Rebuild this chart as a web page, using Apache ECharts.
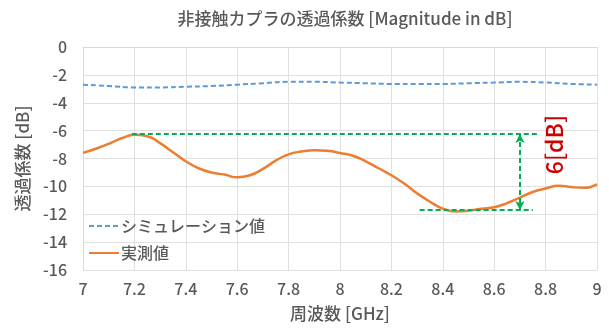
<!DOCTYPE html>
<html>
<head>
<meta charset="utf-8">
<script src="https://cdn.jsdelivr.net/npm/echarts@6/dist/echarts.min.js"></script>
<style>
html, body { margin: 0; padding: 0; background: #fff; }
#chart { width: 609px; height: 329px; }
</style>
</head>
<body>
<div id="chart"></div>
<script>
// シミュレーション値 (GHz, dB)
var simFreq = [7.0, 7.1, 7.2, 7.3, 7.4, 7.5, 7.6, 7.7, 7.8, 7.9, 8.0, 8.1, 8.2, 8.3, 8.4, 8.5, 8.6, 8.7, 8.8, 8.9, 9.0];
var simVal = [-2.7, -2.8, -2.9, -2.9, -2.85, -2.8, -2.7, -2.6, -2.5, -2.5, -2.55, -2.6, -2.65, -2.65, -2.65, -2.6, -2.55, -2.5, -2.55, -2.65, -2.7];

// 実測値
var measFreq = [7.0, 7.05, 7.1, 7.15, 7.2, 7.25, 7.3, 7.35, 7.4, 7.45, 7.5, 7.55, 7.6, 7.65, 7.7, 7.75, 7.8, 7.85, 7.9, 7.95,
    8.0, 8.05, 8.1, 8.15, 8.2, 8.25, 8.3, 8.35, 8.4, 8.45, 8.5, 8.55, 8.6, 8.65, 8.7, 8.75, 8.8, 8.85, 8.9, 8.95, 9.0];
var measVal = [-7.6, -7.3, -6.95, -6.55, -6.3, -6.4, -6.9, -7.55, -8.2, -8.7, -9.0, -9.15, -9.35, -9.2, -8.75, -8.15, -7.7, -7.5, -7.4, -7.45,
    -7.6, -7.8, -8.2, -8.7, -9.2, -9.8, -10.5, -11.1, -11.6, -11.8, -11.75, -11.6, -11.5, -11.2, -10.8, -10.4, -10.15, -9.95, -10.05, -10.1, -9.85];

// 6dB の差を示す補助線
var peakLevel = -6.25;
var dipLevel = -11.7;
var peakSpan = [7.19, 8.77];
var dipSpan = [8.31, 8.75];
var arrowFreq = 8.70;
var diffLabel = '6[dB]';
var diffLabelPos = [8.835, -7.0];

var fontFamily = '"Noto Sans CJK JP", "Noto Sans", sans-serif';
var textGray = '#595959';

function pairs(xs, ys) {
    return xs.map(function (x, i) { return [x, ys[i]]; });
}

var chart = echarts.init(document.getElementById('chart'));

var option = {
    animation: false,
    textStyle: { fontFamily: fontFamily },
    title: {
        text: '非接触カプラの透過係数 [Magnitude in dB]',
        left: 340,
        textAlign: 'center',
        top: 5,
        textStyle: { fontSize: 17, fontWeight: 500, color: textGray, fontFamily: fontFamily }
    },
    grid: { left: 83, right: 12, top: 47, bottom: 59, containLabel: false },
    legend: {
        orient: 'vertical',
        left: 83,
        top: 213,
        itemWidth: 30,
        itemHeight: 10,
        itemGap: 11,
        itemStyle: { opacity: 0 },
        textStyle: { fontSize: 16, fontWeight: 500, color: textGray, fontFamily: fontFamily, padding: [0, 0, 0, -3] },
        data: ['シミュレーション値', '実測値']
    },
    xAxis: {
        type: 'value',
        min: 7,
        max: 9,
        interval: 0.2,
        name: '周波数 [GHz]',
        nameLocation: 'middle',
        nameGap: 35,
        nameTextStyle: { fontSize: 17, fontWeight: 500, color: textGray },
        axisLine: { show: true, lineStyle: { color: '#D9D9D9' } },
        axisTick: { show: false },
        axisLabel: { fontSize: 16, fontWeight: 500, color: textGray, margin: 11 },
        splitLine: { show: true, lineStyle: { color: '#E0E0E0' } }
    },
    yAxis: {
        type: 'value',
        min: -16,
        max: 0,
        interval: 2,
        name: '透過係数 [dB]',
        nameLocation: 'middle',
        nameGap: 52,
        nameTextStyle: { fontSize: 17, fontWeight: 500, color: textGray },
        axisLine: { show: true, lineStyle: { color: '#D9D9D9' } },
        axisTick: { show: false },
        axisLabel: { fontSize: 16, fontWeight: 500, color: textGray, margin: 16 },
        splitLine: { show: true, lineStyle: { color: '#E0E0E0' } }
    },
    series: [
        {
            name: 'シミュレーション値',
            type: 'line',
            smooth: true,
            symbol: 'none',
            data: pairs(simFreq, simVal),
            itemStyle: { color: '#5B9BD5' },
            lineStyle: { color: '#5B9BD5', width: 2, type: [5, 3] }
        },
        {
            name: '実測値',
            type: 'line',
            smooth: 0.5,
            symbol: 'none',
            data: pairs(measFreq, measVal),
            itemStyle: { color: '#ED7D31' },
            lineStyle: { color: '#ED7D31', width: 2.5 },
            markLine: {
                silent: true,
                symbol: 'none',
                label: { show: false },
                lineStyle: { color: '#00B050', width: 2, type: [5, 3] },
                data: [
                    [{ coord: [peakSpan[0], peakLevel] }, { coord: [peakSpan[1], peakLevel] }],
                    [{ coord: [dipSpan[0], dipLevel] }, { coord: [dipSpan[1], dipLevel] }],
                    [{ coord: [arrowFreq, peakLevel], symbol: 'arrow', symbolSize: [7, 9] },
                     { coord: [arrowFreq, dipLevel], symbol: 'arrow', symbolSize: [7, 9] }]
                ]
            }
        }
    ]
};

chart.setOption(option);

var p = chart.convertToPixel({ gridIndex: 0 }, diffLabelPos);
chart.setOption({
    graphic: [{
        type: 'text',
        x: p[0],
        y: p[1],
        rotation: Math.PI / 2,
        style: {
            text: diffLabel,
            fill: '#D00000',
            font: '500 23px ' + fontFamily,
            align: 'center',
            verticalAlign: 'middle'
        }
    }]
});
</script>
</body>
</html>
